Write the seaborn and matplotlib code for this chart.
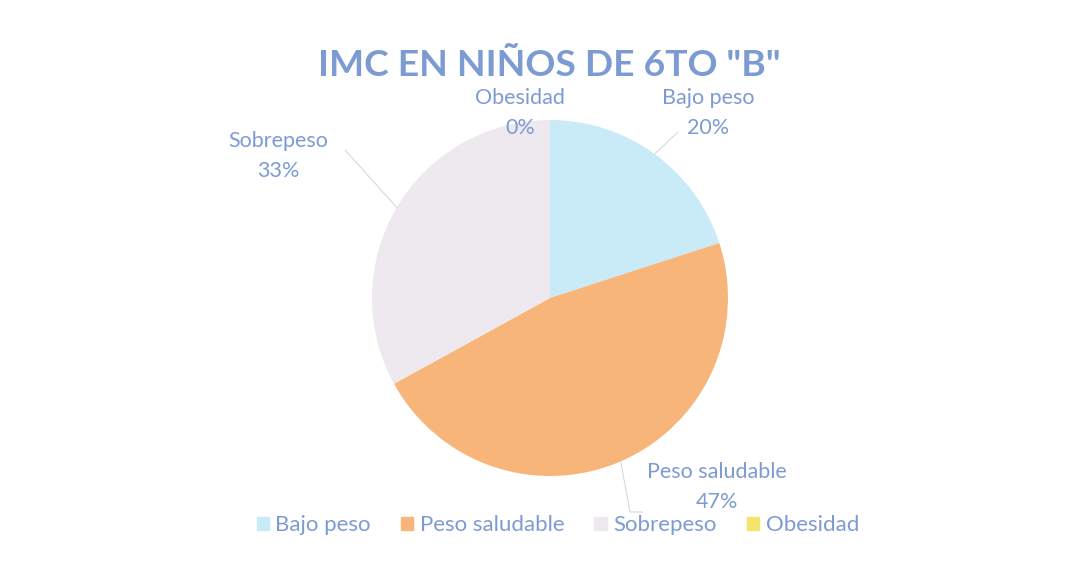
import numpy as np
import matplotlib
matplotlib.use("Agg")
import matplotlib.pyplot as plt
import seaborn as sns

# ---------------------------------------------------------
# DATA
# ---------------------------------------------------------
categories = ["Bajo peso", "Peso saludable", "Sobrepeso", "Obesidad"]
percent = [20, 47, 33, 0]
title = 'IMC EN NIÑOS DE 6TO "B"'

# ---------------------------------------------------------
# STYLE
# ---------------------------------------------------------
sns.set_theme(style="white")
plt.rcParams["font.family"] = ["Lato", "DejaVu Sans"]

colors = ["#c8ebf7", "#f7b57a", "#ede9ee", "#f3e46c"]
text_color = "#7d9bd3"

# label placement (pixels, offset from pie centre)
label_offsets = [(158, 185), (167, -189), (-272, 142), (-30, 185)]
# leader line end points (offset from pie centre), None = no line
leader_ends = [[(128, 166)], [(80, -214), (92, -214)], [(-205, 148)], None]

W, H = 1083, 566
cx, cy, r = 550, 268, 178

fig = plt.figure(figsize=(W / 100, H / 100), dpi=100)
ax = fig.add_axes([0, 0, 1, 1])

wedges, _ = ax.pie(percent, colors=colors, startangle=90, counterclock=False,
                   center=(cx, cy), radius=r,
                   wedgeprops=dict(linewidth=0, edgecolor="none"))
ax.set_xlim(0, W)
ax.set_ylim(0, H)
ax.set_aspect("equal")
ax.axis("off")

# data labels with faint leader lines
for w, cat, pct, (dx, dy), ends in zip(wedges, categories, percent, label_offsets, leader_ends):
    ax.text(cx + dx, cy + dy, f"{cat}\n{pct}%", ha="center", va="center", fontsize=15.5,
            color=text_color, linespacing=1.6)
    if ends:
        ang = np.deg2rad((w.theta1 + w.theta2) / 2)
        xs = [cx + r * np.cos(ang)] + [cx + e[0] for e in ends]
        ys = [cy + r * np.sin(ang)] + [cy + e[1] for e in ends]
        ax.plot(xs, ys, color="#d9d9d9", lw=0.8)

fig.text(0.507, 0.885, title, ha="center", va="center", fontsize=26.8,
         fontweight="bold", color=text_color)

handles = [plt.Rectangle((0, 0), 1, 1, color=c) for c in colors]
fig.legend(handles, categories, loc="center", bbox_to_anchor=(0.515, 0.072), ncol=4,
           frameon=False, fontsize=16, handlelength=0.55, handleheight=0.55,
           handletextpad=0.3, columnspacing=1.35, labelcolor=text_color)

fig.savefig("out.png", dpi=100, facecolor="white")
